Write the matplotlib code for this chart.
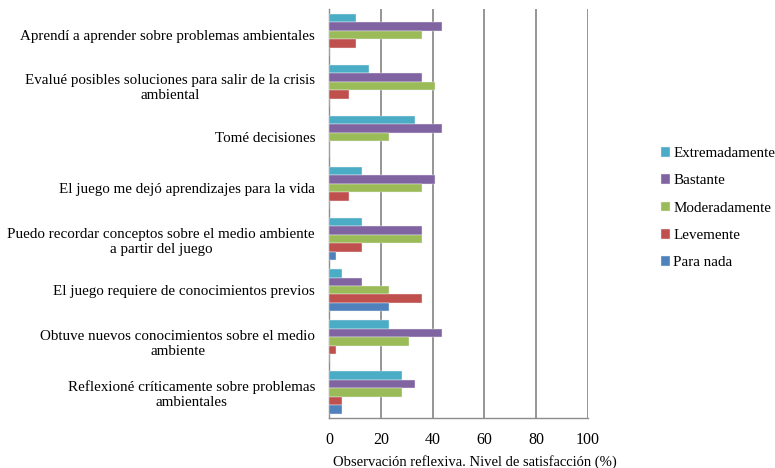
import numpy as np
import matplotlib
matplotlib.use("Agg")
import matplotlib.pyplot as plt

plt.rcParams['font.family'] = ['Liberation Serif', 'DejaVu Serif']

# Items, listed top to bottom
items = [
    "Aprendí a aprender sobre problemas ambientales",
    "Evalué posibles soluciones para salir de la crisis\nambiental",
    "Tomé decisiones",
    "El juego me dejó aprendizajes para la vida",
    "Puedo recordar conceptos sobre el medio ambiente\na partir del juego",
    "El juego requiere de conocimientos previos",
    "Obtuve nuevos conocimientos sobre el medio\nambiente",
    "Reflexioné críticamente sobre problemas\nambientales",
]

# Percentage of answers per level
extremadamente = [10.3, 15.4, 33.3, 12.8, 12.8, 5.1, 23.1, 28.2]
bastante = [43.6, 35.9, 43.6, 41.0, 35.9, 12.8, 43.6, 33.3]
moderadamente = [35.9, 41.0, 23.1, 35.9, 35.9, 23.1, 30.8, 28.2]
levemente = [10.3, 7.7, 0.0, 7.7, 12.8, 35.9, 2.6, 5.1]
para_nada = [0.0, 0.0, 0.0, 0.0, 2.6, 23.1, 0.0, 5.1]

series = [
    ("Extremadamente", extremadamente, "#4BACC6"),
    ("Bastante", bastante, "#8064A2"),
    ("Moderadamente", moderadamente, "#9BBB59"),
    ("Levemente", levemente, "#C0504D"),
    ("Para nada", para_nada, "#4F81BD"),
]

fig = plt.figure(figsize=(7.75, 4.68), dpi=100)
ax = fig.add_axes([0.4245, 0.107, 0.334, 0.873])

y = np.arange(len(items))
h = 0.166
for i, (name, vals, col) in enumerate(series):
    offs = (i - 2) * h
    ax.barh(y + offs, vals, height=h, color=col, label=name,
            edgecolor='#f0f0f0', linewidth=0.3, zorder=3)

ax.set_ylim(len(items) - 0.5, -0.5)
ax.set_yticks(y)
ax.set_yticklabels(items, fontsize=10.85, multialignment='center')
ax.tick_params(axis='y', length=0, pad=10)

ax.set_xlim(0, 100)
ax.set_xticks(np.arange(0, 101, 20))
ax.tick_params(axis='x', length=0, labelsize=11.5, pad=10)
ax.xaxis.grid(True, color='#8C8C8C', linewidth=1.3, zorder=0)
ax.set_xlabel("Observación reflexiva. Nivel de satisfacción (%)", fontsize=10.5)
ax.xaxis.set_label_coords(0.565, -0.092)

for s in ['top', 'right']:
    ax.spines[s].set_visible(False)
for s in ['left', 'bottom']:
    ax.spines[s].set_color('#8C8C8C')
    ax.spines[s].set_linewidth(1.0)

ax.legend(loc='center left', bbox_to_anchor=(0.853, 0.555), bbox_transform=fig.transFigure,
          frameon=False, fontsize=10.8, handlelength=0.6, handleheight=0.6,
          handletextpad=0.2, labelspacing=0.95, borderaxespad=0, borderpad=0)

fig.savefig("out.png", dpi=100)
